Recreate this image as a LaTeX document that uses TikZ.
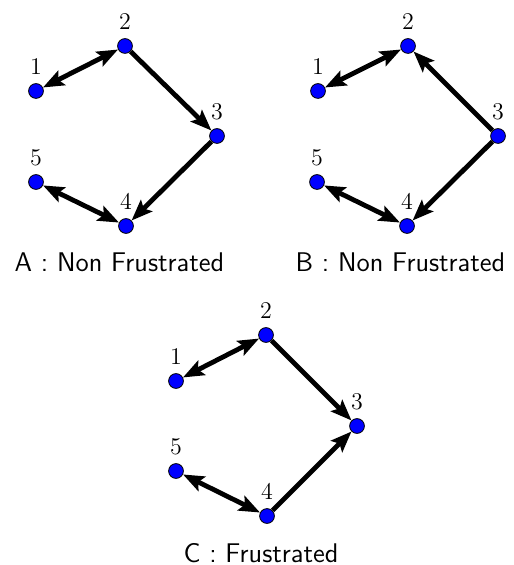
\documentclass[tikz,border=0pt]{standalone}
\usepackage{tikz}
\usetikzlibrary{positioning}
\usetikzlibrary{arrows.meta}

\tikzset{
    dot/.style={circle, draw=black, fill=blue, line width=0.4pt, minimum size=7.4pt, inner sep=0pt},
    num/.style={label distance=4pt, inner sep=0pt, font=\fontsize{12.5}{14}\selectfont},
    edge/.style={line width=2.4pt, >={Stealth[length=10.5pt, width=8pt, inset=2pt]}},
    caption/.style={font=\fontsize{13.5}{16}\selectfont\sffamily}
}

\begin{document}
\begin{tikzpicture}[on grid]
    \useasboundingbox (0,0) rectangle (256.5pt,-282.5pt);

    % A
    \begin{scope}[shift={(18pt,-45.5pt)}]
        \node[dot, label={[num]above:$1$}] (a1) at (0,0) {};
        \node[dot, label={[num]above:$2$}, above right=22.5pt and 44.5pt of a1] (a2) {};
        \node[dot, label={[num]above:$3$}, below right=45pt and 46pt of a2] (a3) {};
        \node[dot, label={[num]above:$4$}, below left=45pt and 45.5pt of a3] (a4) {};
        \node[dot, label={[num]above:$5$}, above left=22pt and 45pt of a4] (a5) {};

        \draw[edge, <->] (a1) -- (a2);
        \draw[edge, ->] (a2) -- (a3);
        \draw[edge, ->] (a3) -- (a4);
        \draw[edge, <->] (a5) -- (a4);

        \node[caption, below=18pt of a4, xshift=-3.3pt] (capa) {A : Non Frustrated};
    \end{scope}

    % B
    \begin{scope}[shift={(159pt,-45.5pt)}]
        \node[dot, label={[num]above:$1$}] (b1) at (0,0) {};
        \node[dot, label={[num]above:$2$}, above right=22.5pt and 45pt of b1] (b2) {};
        \node[dot, label={[num]above:$3$}, below right=45pt and 45pt of b2] (b3) {};
        \node[dot, label={[num]above:$4$}, below left=45pt and 45.5pt of b3] (b4) {};
        \node[dot, label={[num]above:$5$}, above left=22pt and 45pt of b4] (b5) {};

        \draw[edge, <->] (b1) -- (b2);
        \draw[edge, ->] (b3) -- (b2);
        \draw[edge, ->] (b3) -- (b4);
        \draw[edge, <->] (b5) -- (b4);

        \node[caption, below=18pt of b4, xshift=-3.3pt] (capb) {B : Non Frustrated};
    \end{scope}

    % C
    \begin{scope}[shift={(88pt,-190.5pt)}]
        \node[dot, label={[num]above:$1$}] (c1) at (0,0) {};
        \node[dot, label={[num]above:$2$}, above right=23pt and 45pt of c1] (c2) {};
        \node[dot, label={[num]above:$3$}, below right=45.5pt and 45.5pt of c2] (c3) {};
        \node[dot, label={[num]above:$4$}, below left=45pt and 45pt of c3] (c4) {};
        \node[dot, label={[num]above:$5$}, above left=22.5pt and 45.5pt of c4] (c5) {};

        \draw[edge, <->] (c1) -- (c2);
        \draw[edge, ->] (c2) -- (c3);
        \draw[edge, ->] (c4) -- (c3);
        \draw[edge, <->] (c5) -- (c4);

        \node[caption, below=18.5pt of c4, xshift=-3pt] (capc) {C : Frustrated};
    \end{scope}
\end{tikzpicture}
\end{document}
